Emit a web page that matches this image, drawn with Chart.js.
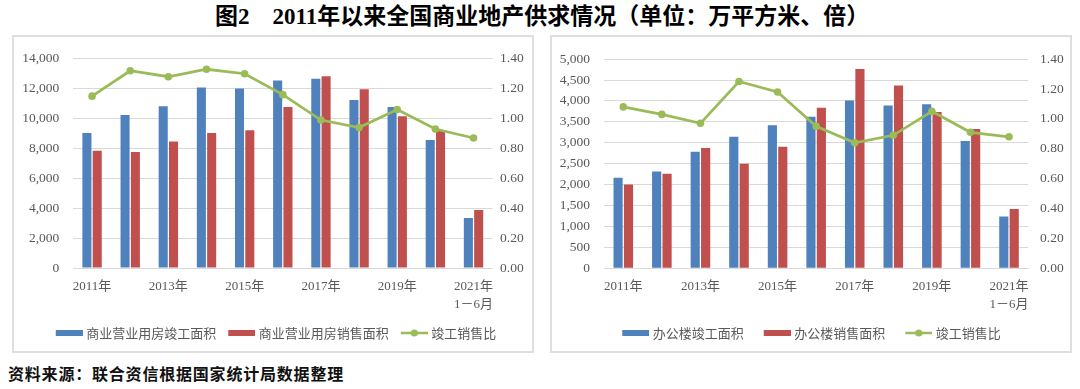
<!DOCTYPE html>
<html><head><meta charset="utf-8">
<script src="https://cdn.jsdelivr.net/npm/chart.js@4/dist/chart.umd.min.js"></script>
<style>
body{margin:0;width:1080px;height:389px;background:#fff;position:relative;overflow:hidden;}
#title{position:absolute;left:215px;top:3px;white-space:nowrap;font-weight:bold;font-size:23px;line-height:27px;font-family:'Liberation Serif','Noto Sans CJK SC',serif;color:#000;}
#source{position:absolute;left:8px;top:363px;white-space:nowrap;font-weight:bold;font-size:16px;line-height:20px;letter-spacing:0.8px;font-family:'Noto Sans CJK SC',sans-serif;color:#111;}
.frame{position:absolute;top:35px;height:318px;border:2px solid #dedede;box-sizing:border-box;}
canvas{position:absolute;}
</style>
</head><body>
<div id="title">图2　2011年以来全国商业地产供求情况（单位：万平方米、倍）</div>
<div class="frame" style="left:12px;width:522px;"></div>
<div class="frame" style="left:550px;width:522px;"></div>
<canvas id="c1" width="518" height="314" style="left:14px;top:37px;width:518px;height:314px"></canvas>
<canvas id="c2" width="518" height="314" style="left:552px;top:37px;width:518px;height:314px"></canvas>
<div id="source">资料来源：联合资信根据国家统计局数据整理</div>
<script>
const categories = ["2011年","2012年","2013年","2014年","2015年","2016年","2017年","2018年","2019年","2020年",["2021年","1－6月"]];
const commercialCompleted = [9030, 10240, 10830, 12080, 12010, 12540, 12670, 11240, 10780, 8570, 3350];
const commercialSold      = [7840, 7760, 8460, 9030, 9220, 10780, 12840, 11970, 10150, 9220, 3880];
const commercialRatio     = [1.15, 1.32, 1.28, 1.33, 1.30, 1.16, 0.99, 0.94, 1.06, 0.93, 0.87];
const officeCompleted = [2165, 2316, 2788, 3143, 3417, 3625, 4008, 3890, 3920, 3040, 1236];
const officeSold      = [2000, 2260, 2873, 2500, 2906, 3835, 4764, 4370, 3733, 3330, 1418];
const officeRatio     = [1.08, 1.03, 0.97, 1.25, 1.18, 0.95, 0.84, 0.89, 1.05, 0.91, 0.88];
const leftLabels  = ["商业营业用房竣工面积","商业营业用房销售面积","竣工销售比"];
const rightLabels = ["办公楼竣工面积","办公楼销售面积","竣工销售比"];

const BLUE='#4f81bd', RED='#c0504d', GREEN='#9bbb59', TXT='#595959', GRID='#d9d9d9';
const tickFont = {family:"'Liberation Serif','Noto Sans CJK SC',serif", size:13.5};
const xFont = {family:"'Liberation Serif','Noto Sans CJK SC',serif", size:13, lineHeight:1.4};
const legFont = {family:"'Noto Sans CJK SC',sans-serif", size:13};

// icon canvas: width bw+6, icon (27px) right-aligned, so it ends 3.5px before the text
function boxIcon(color,bw){const W=bw+6;const c=document.createElement('canvas');c.width=W;c.height=6;const x=c.getContext('2d');x.fillStyle=color;x.fillRect(W-27,0,27,6);return c;}
function lineIcon(bw){const W=bw+6;const c=document.createElement('canvas');c.width=W;c.height=10;const x=c.getContext('2d');const s=W-27;x.strokeStyle=GREEN;x.lineWidth=2.5;x.beginPath();x.moveTo(s,5);x.lineTo(W,5);x.stroke();x.fillStyle=GREEN;x.beginPath();x.arc(s+13.5,5,3.6,0,Math.PI*2);x.fill();return c;}

function makeChart(id, labels, barA, barB, ratio, cfg){
  const icons=[boxIcon(BLUE,cfg.bw),boxIcon(RED,cfg.bw),lineIcon(cfg.bw)];
  new Chart(document.getElementById(id), {
    data:{
      labels: categories,
      datasets:[
        {type:'bar', label:labels[0], data:barA, backgroundColor:BLUE, yAxisID:'y', order:1, barPercentage:0.88, categoryPercentage:0.54},
        {type:'bar', label:labels[1], data:barB, backgroundColor:RED, yAxisID:'y', order:1, barPercentage:0.88, categoryPercentage:0.54},
        {type:'line', label:labels[2], data:ratio, borderColor:GREEN, backgroundColor:GREEN, borderWidth:2.75, pointRadius:3.8, pointBackgroundColor:GREEN, pointBorderWidth:0, yAxisID:'y1', order:0, tension:0}
      ]
    },
    options:{
      responsive:false, animation:false, devicePixelRatio:1,
      layout:{padding:{left:cfg.padL, right:0, top:cfg.padT, bottom:1.5}},
      plugins:{
        tooltip:{enabled:false},
        legend:{position:'bottom', labels:{
          usePointStyle:true, pointStyleWidth:cfg.bw, boxHeight:13, padding:8, color:TXT, font:legFont,
          generateLabels:(chart)=>chart.data.datasets.map((ds,i)=>({text:ds.label, pointStyle:icons[i], fontColor:TXT, datasetIndex:i, hidden:false, lineWidth:0, strokeStyle:'rgba(0,0,0,0)', fillStyle:'rgba(0,0,0,0)'}))
        }}
      },
      scales:{
        x:{
          grid:{display:false, drawTicks:false}, border:{display:true, color:GRID},
          ticks:{autoSkip:false, maxRotation:0, color:TXT, font:xFont, padding:cfg.xPad,
            callback:function(v,i){return i%2===0 ? this.getLabelForValue(v) : '';}},
          afterFit:(s)=>{s.height=cfg.xH;}
        },
        y:{
          position:'left', min:0, max:cfg.yMax, grid:{color:GRID, drawTicks:false}, border:{display:false},
          ticks:{stepSize:cfg.yStep, color:TXT, font:tickFont, padding:cfg.yPad, callback:(v)=>v.toLocaleString('en-US')},
          afterFit:(s)=>{s.width=cfg.yW;}
        },
        y1:{
          position:'right', min:0, max:1.4, grid:{display:false, drawTicks:false}, border:{display:false},
          ticks:{stepSize:0.2, color:TXT, font:tickFont, padding:cfg.y1Pad, callback:(v)=>Number(v).toFixed(2)},
          afterFit:(s)=>{s.width=cfg.y1W;}
        }
      }
    }
  });
}
makeChart('c1', leftLabels, commercialCompleted, commercialSold, commercialRatio,
  {padL:2, padT:18, bw:28, xH:50.5, xPad:9, yMax:14000, yStep:2000, yW:57, yPad:13.7, y1W:39.4, y1Pad:7.4});
makeChart('c2', rightLabels, officeCompleted, officeSold, officeRatio,
  {padL:-11, padT:19.7, bw:36, xH:50.2, xPad:9, yMax:5000, yStep:500, yW:63, yPad:14, y1W:41.7, y1Pad:11.7});
</script>
</body></html>
